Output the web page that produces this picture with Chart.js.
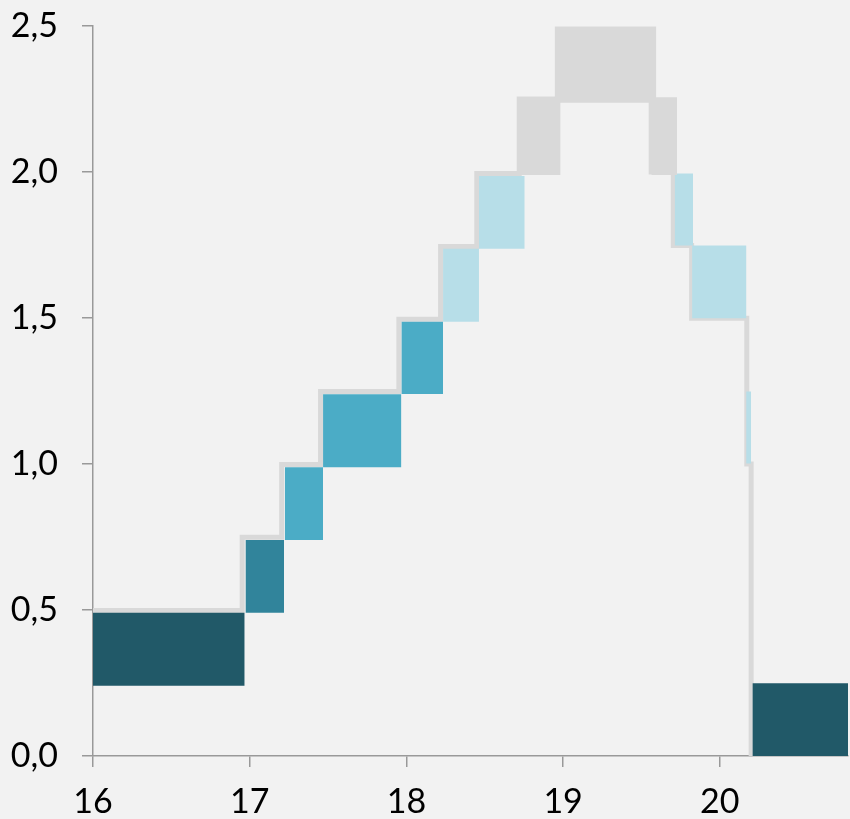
<!DOCTYPE html>
<html>
<head>
<meta charset="utf-8">
<script src="https://cdn.jsdelivr.net/npm/chart.js@4"></script>
<style>
  html, body { margin: 0; padding: 0; background: #f2f2f2; }
  #wrap { width: 850px; height: 819px; }
</style>
</head>
<body>
<div id="wrap"><canvas id="c" width="850" height="819"></canvas></div>
<script>
// Box start / end (years) and low / high values
const boxStart = [16.00, 16.973, 17.224, 17.468, 17.968, 18.234, 18.463, 18.721, 18.946, 19.563, 19.712, 19.823, 20.168, 20.208];
const boxEnd   = [16.968, 17.219, 17.468, 17.968, 18.234, 18.463, 18.755, 18.984, 19.595, 19.727, 19.829, 20.170, 20.200, 20.818];
const boxLow   = [0.241, 0.491, 0.740, 0.989, 1.240, 1.487, 1.737, 1.990, 2.237, 1.990, 1.748, 1.499, 1.002, 0.000];
const boxHigh  = [0.491, 0.740, 0.989, 1.239, 1.487, 1.737, 1.986, 2.256, 2.498, 2.256, 1.995, 1.748, 1.248, 0.249];
const boxColor = ['#215968', '#31849b', '#4bacc6', '#4bacc6', '#4bacc6', '#b7dee8', '#b7dee8',
                  '#d9d9d9', '#d9d9d9', '#d9d9d9', '#b7dee8', '#b7dee8', '#b7dee8', '#215968'];

// Grey stepped outline (x, y)
const stepX = [16.00, 16.952, 17.204, 17.452, 17.952, 18.218, 18.449, 18.72, 18.95, 19.562, 19.703, 19.820, 20.172, 20.200];
const stepY = [0.498, 0.749, 0.998, 1.248, 1.496, 1.745, 1.995, 2.25, 2.25, 2.00, 1.748, 1.499, 1.000, 0.000];

// Tick labels
const xTicks = [16, 17, 18, 19, 20];
const yTicks = [0, 0.5, 1.0, 1.5, 2.0, 2.5];

const datasets = [];
for (let i = 0; i < boxStart.length; i++) {
  datasets.push({
    data: [{x: boxStart[i], y: boxHigh[i]}, {x: boxEnd[i], y: boxHigh[i]}],
    fill: {value: boxLow[i]},
    backgroundColor: boxColor[i],
    borderColor: 'rgba(0,0,0,0)',
    borderWidth: 0,
    pointRadius: 0,
    pointHoverRadius: 0,
    tension: 0
  });
}
datasets.push({
  data: stepX.map((x, i) => ({x: x, y: stepY[i]})),
  stepped: true,
  fill: false,
  borderColor: '#d9d9d9',
  borderWidth: 5,
  borderJoinStyle: 'miter',
  borderCapStyle: 'butt',
  pointRadius: 0,
  pointHoverRadius: 0
});

const axisColor = '#999999';
const tickFont = {family: 'Lato, "Open Sans", sans-serif', size: 34};

new Chart(document.getElementById('c'), {
  type: 'line',
  data: {datasets},
  options: {
    responsive: false,
    animation: false,
    events: [],
    layout: {padding: {top: 26, right: 2, left: 0, bottom: 0}},
    plugins: {legend: {display: false}, tooltip: {enabled: false}},
    scales: {
      x: {
        type: 'linear',
        min: 16,
        max: 20.818,
        afterBuildTicks: s => { s.ticks = xTicks.map(v => ({value: v})); },
        afterFit: s => { s.height = 63; s.paddingLeft = 0; s.paddingRight = 0; },
        grid: {display: true, drawOnChartArea: false, drawTicks: true, tickLength: 11, color: axisColor, lineWidth: 1.5},
        border: {display: true, color: axisColor, width: 1.5},
        ticks: {
          color: '#000000',
          font: tickFont,
          padding: 15,
          maxRotation: 0,
          autoSkip: false,
          callback: v => String(v)
        }
      },
      y: {
        type: 'linear',
        min: 0,
        max: 2.5,
        afterBuildTicks: s => { s.ticks = yTicks.map(v => ({value: v})); },
        afterFit: s => { s.width = 93; s.paddingTop = 0; s.paddingBottom = 0; },
        grid: {display: true, drawOnChartArea: false, drawTicks: true, tickLength: 11, color: axisColor, lineWidth: 1.5},
        border: {display: true, color: axisColor, width: 1.5},
        ticks: {
          color: '#000000',
          font: tickFont,
          padding: 24,
          autoSkip: false,
          callback: v => v.toFixed(1).replace('.', ',')
        }
      }
    }
  }
});
</script>
</body>
</html>
